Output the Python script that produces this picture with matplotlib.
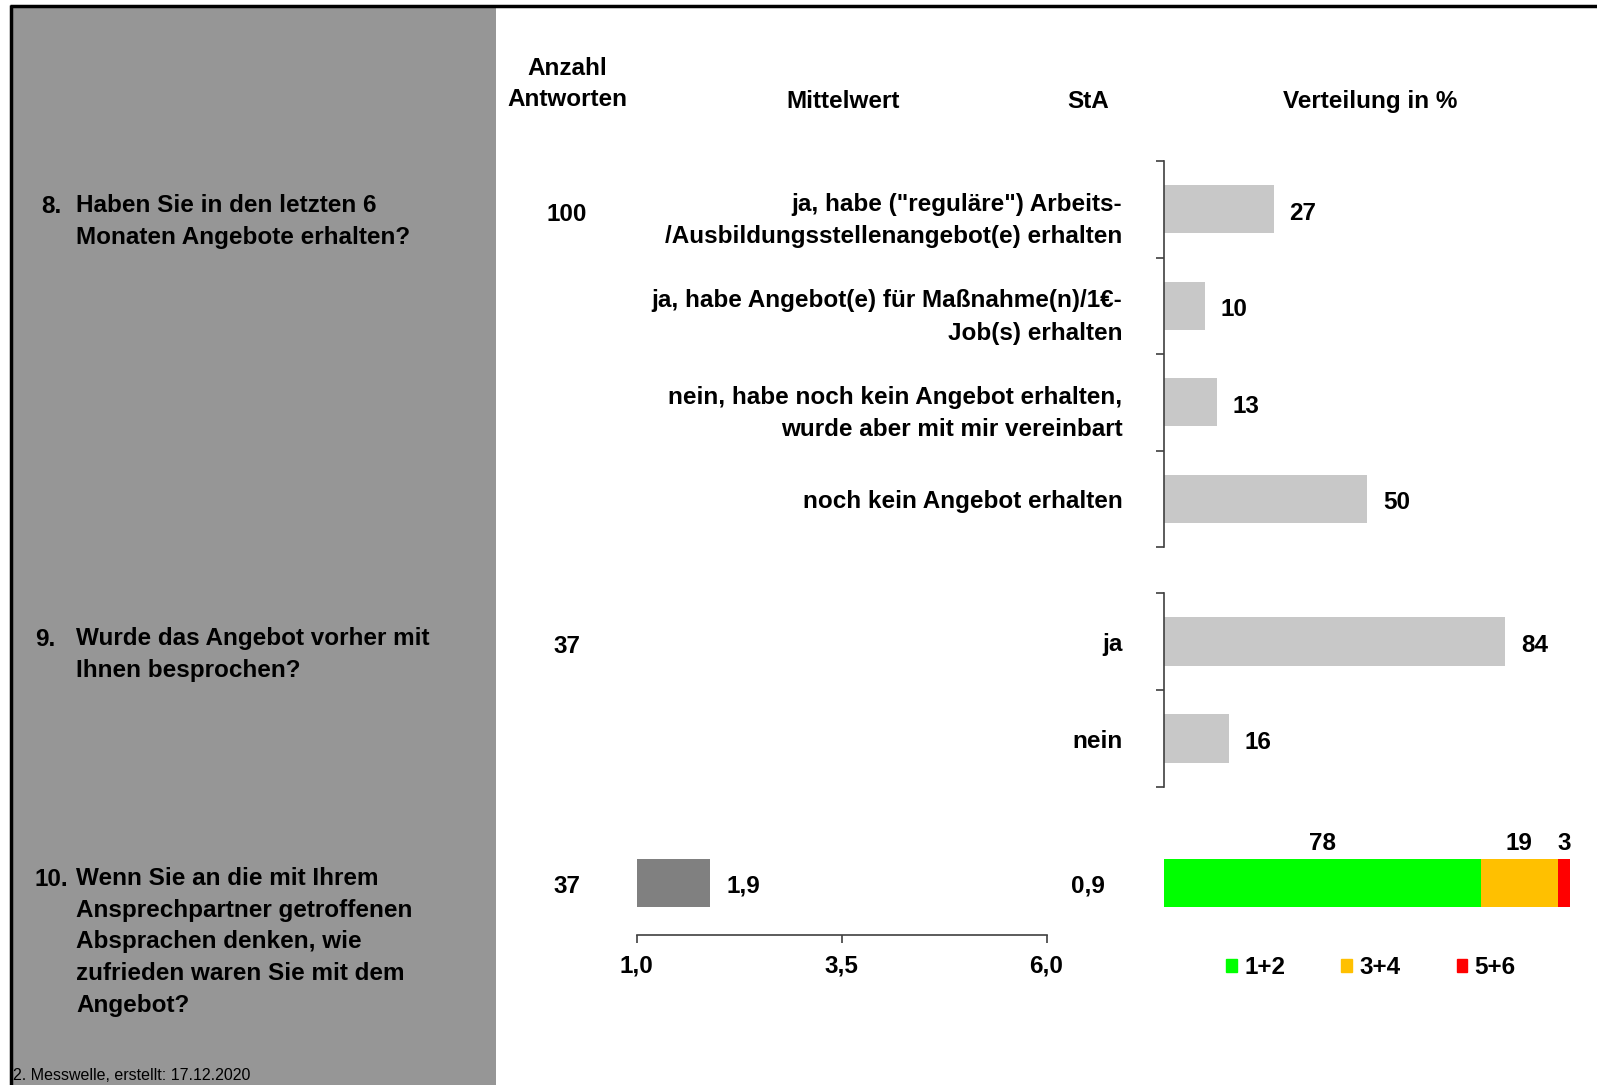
import matplotlib
matplotlib.use("Agg")
import matplotlib.pyplot as plt
import matplotlib.transforms as mtransforms
from matplotlib.patches import Rectangle, Patch

plt.rcParams['font.family'] = ['Liberation Sans', 'DejaVu Sans']
plt.rcParams['font.weight'] = 'bold'
plt.rcParams['font.size'] = 17.5

# data
q_numbers = ["8.", "9.", "10."]
questions = [
    "Haben Sie in den letzten 6\nMonaten Angebote erhalten?",
    "Wurde das Angebot vorher mit\nIhnen besprochen?",
    "Wenn Sie an die mit Ihrem\nAnsprechpartner getroffenen\nAbsprachen denken, wie\nzufrieden waren Sie mit dem\nAngebot?",
]
n_answers = [100, 37, 37]
headers = ["Anzahl\nAntworten", "Mittelwert", "StA", "Verteilung in %"]

q8_labels = [
    'ja, habe ("reguläre") Arbeits-\n/Ausbildungsstellenangebot(e) erhalten',
    "ja, habe Angebot(e) für Maßnahme(n)/1€-\nJob(s) erhalten",
    "nein, habe noch kein Angebot erhalten,\nwurde aber mit mir vereinbart",
    "noch kein Angebot erhalten",
]
q8_values = [27, 10, 13, 50]

q9_labels = ["ja", "nein"]
q9_values = [84, 16]

q10_mean = 1.9
q10_sd = 0.9
mean_ticks = [1.0, 3.5, 6.0]
dist_labels = ["1+2", "3+4", "5+6"]
dist_values = [78, 19, 3]
dist_colors = ["#00FF00", "#FFC000", "#FF0000"]

footer = "2. Messwelle, erstellt: 17.12.2020"

W, H = 1597, 1085
fig = plt.figure(figsize=(W / 100, H / 100), dpi=100)


def de(v):
    return f"{v:.1f}".replace(".", ",")


def px_axes(left, top, right, bottom):
    return fig.add_axes([left / W, 1 - bottom / H, (right - left) / W, (bottom - top) / H])


# background layer in pixel coordinates
bg = px_axes(0, 0, W, H)
bg.set_xlim(0, W)
bg.set_ylim(H, 0)
bg.axis("off")
bg.add_patch(Rectangle((11, 6), 485, H, color="#969696", lw=0))
bg.plot([10, W], [5.5, 5.5], color="black", lw=2.5, solid_capstyle="butt")
bg.plot([10.5, 10.5], [5, H], color="black", lw=2.5, solid_capstyle="butt")

# column headers
bg.text(567, 84, headers[0], ha="center", va="center", linespacing=1.45)
bg.text(843, 99, headers[1], ha="center", va="center_baseline")
bg.text(1088, 99, headers[2], ha="center", va="center_baseline")
bg.text(1370, 99, headers[3], ha="center", va="center_baseline")

# questions
q_top = [204, 637, 877]
num_x = [41, 35, 35]
for num, q, y, nx in zip(q_numbers, questions, q_top, num_x):
    bg.text(nx, y, num, ha="left", va="center_baseline")
    bg.text(76, y - 10, q, ha="left", va="top", linespacing=1.48)

# answer counts
for n, y in zip(n_answers, [212, 644, 884]):
    bg.text(567, y, str(n), ha="center", va="center_baseline")
bg.text(1088, 884, de(q10_sd), ha="center", va="center_baseline")

bg.text(13, 1076, footer, ha="left", va="center", fontsize=11.5, fontweight="normal")

scale = 406  # pixels per 100 %
axis_col = "#404040"


def cat_bars(top, bottom, labels, values):
    ax = px_axes(1164, top, 1164 + scale, bottom)
    n = len(values)
    ax.barh(range(n), values, height=0.5, color="#C8C8C8")
    ax.set_xlim(0, 100)
    ax.set_ylim(n - 0.5, -0.5)
    for s in ["top", "right", "bottom"]:
        ax.spines[s].set_visible(False)
    ax.spines["left"].set_color(axis_col)
    ax.spines["left"].set_linewidth(1.2)
    ax.set_xticks([])
    ax.set_yticks([i - 0.5 for i in range(n + 1)])
    ax.set_yticklabels([])
    ax.tick_params(axis="y", which="major", length=6, width=1.2, color=axis_col)
    ax.set_yticks(range(n), minor=True)
    ax.set_yticklabels(labels, minor=True)
    ax.tick_params(axis="y", which="minor", length=0, pad=30)
    shift = mtransforms.ScaledTranslation(0, -4 / 100, fig.dpi_scale_trans)
    for lbl in ax.get_yticklabels(minor=True):
        lbl.set_linespacing(1.52)
        if "\n" in lbl.get_text():
            lbl.set_transform(lbl.get_transform() + shift)
    for i, v in enumerate(values):
        ax.annotate(str(v), (v, i), xytext=(11.5, -1), textcoords="offset points",
                    ha="left", va="center_baseline")
    ax.patch.set_alpha(0)
    return ax


cat_bars(161, 547, q8_labels, q8_values)
cat_bars(593, 787, q9_labels, q9_values)

# mean value bar
axm = px_axes(636.5, 834.5, 1046.5, 935)
axm.barh([0], [q10_mean - mean_ticks[0]], left=mean_ticks[0], height=0.5, color="#808080")
axm.set_xlim(mean_ticks[0], mean_ticks[-1])
axm.set_ylim(-0.536, 0.5)
for s in ["top", "right", "left"]:
    axm.spines[s].set_visible(False)
axm.spines["bottom"].set_color(axis_col)
axm.spines["bottom"].set_linewidth(1.2)
axm.set_yticks([])
axm.set_xticks(mean_ticks)
axm.set_xticklabels([de(t) for t in mean_ticks])
axm.tick_params(axis="x", length=6, width=1.2, color=axis_col, pad=8)
axm.annotate(de(q10_mean), (q10_mean, 0), xytext=(11.5, 0), textcoords="offset points",
             ha="left", va="center_baseline")
axm.patch.set_alpha(0)

# distribution stacked bar
axd = px_axes(1164, 834.5, 1164 + scale, 931.5)
left = 0
for lab, v, c in zip(dist_labels, dist_values, dist_colors):
    axd.barh([0], [v], left=left, height=0.5, color=c, label=lab)
    axd.annotate(str(v), (left + v / 2, 0), xytext=(0, 30.5), textcoords="offset points",
                 ha="center", va="center_baseline")
    left += v
axd.set_xlim(0, 100)
axd.set_ylim(-0.5, 0.5)
axd.axis("off")

handles = [Patch(color=c, label=l) for l, c in zip(dist_labels, dist_colors)]
fig.legend(handles=handles, loc="center", bbox_to_anchor=(1371 / W, 1 - 968 / H),
           ncol=3, frameon=False, handlelength=0.45, handleheight=0.45,
           handletextpad=0.3, columnspacing=2.3, fontsize=17.5)

fig.savefig("out.png", dpi=100)
